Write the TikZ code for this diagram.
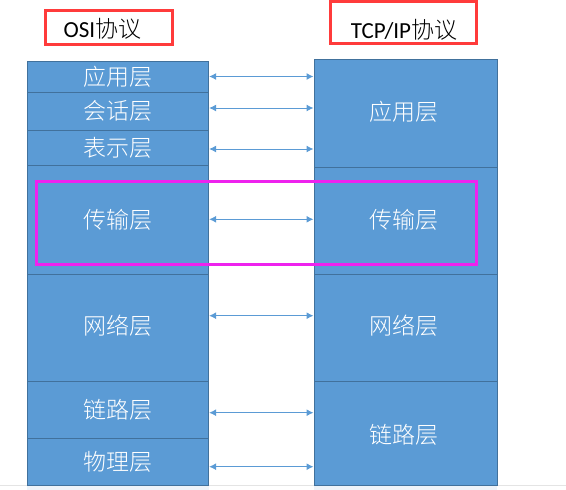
\documentclass[tikz,border=0pt]{standalone}
\usepackage{fontspec}
\setmainfont{Carlito}
\newfontfamily\cjk{Noto Sans CJK SC}[UprightFont={* Light}]
\usetikzlibrary{arrows.meta}
\definecolor{cellfill}{HTML}{5B9BD5}
\definecolor{cellline}{HTML}{41719C}
\definecolor{hdrred}{HTML}{FF3B3B}
\definecolor{hilite}{HTML}{EE22EE}
\definecolor{pale}{HTML}{EEF3F9}
\definecolor{edgegray}{HTML}{E4E4E4}
\tikzset{
  cell/.style={draw=cellline, line width=1pt, fill=cellfill, inner sep=0pt,
    text=white, font=\cjk\fontsize{23}{27}\selectfont},
  lcell/.style={cell, minimum width=181.3pt},
  rcell/.style={cell, minimum width=183pt},
  celltext/.style={text=white, font=\cjk\fontsize{23}{27}\selectfont, inner sep=0pt},
  hdrbox/.style={draw=hdrred, line width=3pt, inner sep=0pt},
  hdrtext/.style={inner sep=0pt, font=\fontsize{23}{27}\selectfont},
  arr/.style={draw=cellfill, line width=1pt, {Latex[length=7pt,width=7pt]}-{Latex[length=7pt,width=7pt]}},
  hibox/.style={draw=hilite, line width=3pt, inner sep=0pt}
}
\begin{document}
\begin{tikzpicture}[x=1pt,y=-1pt]
\useasboundingbox (0,0) rectangle (566,490);
% bottom edge artefacts
\fill[pale] (27.4,485) rectangle (208.7,490);
\fill[pale] (314,485) rectangle (497,490);
\draw[edgegray, line width=1pt] (0,485.5) -- (566,485.5);
% header boxes
\node[hdrbox, minimum width=127pt, minimum height=33.3pt] (osibox) at (108.5,27.4) {};
\node[hdrtext] (osit) at (102.5,29) {OSI{\cjk 协议}};
\node[hdrbox, minimum width=146pt, minimum height=41.3pt] (tcpbox) at (403,22.4) {};
\node[hdrtext] (tcpt) at (404,29.5) {TCP/IP{\cjk 协议}};
% left column
\node[lcell, minimum height=31pt]    (lapp)  at (118,76.8)  {应用层};
\node[lcell, minimum height=38pt]    (lses)  at (118,111.3) {会话层};
\node[lcell, minimum height=35.4pt]  (lpre)  at (118,148)   {表示层};
\node[lcell, minimum height=108.6pt] (ltra)  at (118,220)   {传输层};
\node[lcell, minimum height=107.4pt] (lnet)  at (118,328)   {};
\node[lcell, minimum height=56.6pt]  (llnk)  at (118,410)   {链路层};
\node[lcell, minimum height=46.7pt]  (lphy)  at (118,461.7) {物理层};
\node[celltext] (lnett) at (118,326) {网络层};
% right column
\node[rcell, minimum height=107.7pt] (rapp) at (405.5,113.2) {};
\node[celltext] (rappt) at (404,112) {应用层};
\node[rcell, minimum height=107.3pt] (rtra) at (405.5,220.7) {};
\node[celltext] (rtrat) at (404,220) {传输层};
\node[rcell, minimum height=107.4pt] (rnet) at (405.5,328) {};
\node[celltext] (rnett) at (404,326) {网络层};
\node[rcell, minimum height=103.3pt] (rlnk) at (405.5,433.4) {};
\node[celltext] (rlnkt) at (404,435) {链路层};
% arrow heights
\coordinate (y1) at (0,76.5);
\coordinate (y2) at (0,108);
\coordinate (y3) at (0,149);
\coordinate (y4) at (0,219.3);
\coordinate (y5) at (0,315.7);
\coordinate (y6) at (0,412.7);
\coordinate (y7) at (0,466.7);
\draw[arr] (lapp.east |- y1) -- (rapp.west |- y1);
\draw[arr] (lses.east |- y2) -- (rapp.west |- y2);
\draw[arr] (lpre.east |- y3) -- (rapp.west |- y3);
\draw[arr] (ltra.east |- y4) -- (rtra.west |- y4);
\draw[arr] (lnet.east |- y5) -- (rnet.west |- y5);
\draw[arr] (llnk.east |- y6) -- (rlnk.west |- y6);
\draw[arr] (lphy.east |- y7) -- (rlnk.west |- y7);
% highlight box
\node[hibox, minimum width=439.7pt, minimum height=83.3pt] (hi) at (256.65,222.65) {};
\end{tikzpicture}
\end{document}
